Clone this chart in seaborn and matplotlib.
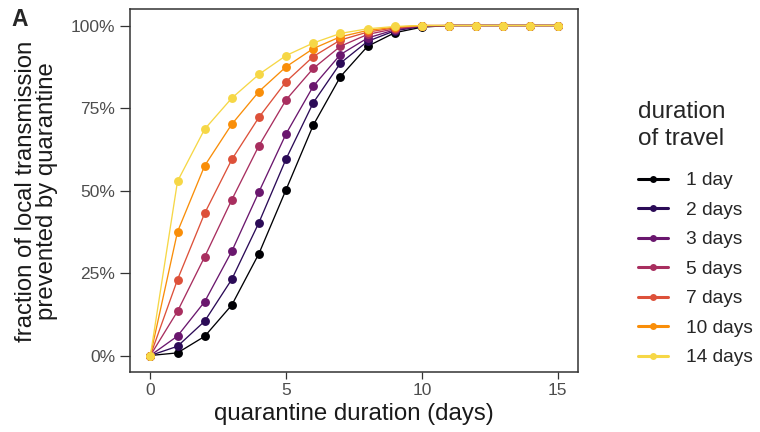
import numpy as np
import pandas as pd
import matplotlib
matplotlib.use("Agg")
import matplotlib.pyplot as plt
import matplotlib as mpl
import seaborn as sns
from matplotlib.ticker import PercentFormatter

# Quarantine duration in days (x axis)
quarantine_days = list(range(0, 16))

# Travel duration groups (legend)
travel_labels = ["1 day", "2 days", "3 days", "5 days", "7 days", "10 days", "14 days"]

# Percent of local transmission prevented, one list per travel duration
prevented_1d = [0, 0.8, 5.8, 15.3, 30.9, 50.3, 69.8, 84.5, 93.7, 97.8, 99.5, 100, 100, 100, 100, 100]
prevented_2d = [0, 2.8, 10.4, 23.1, 40.3, 59.6, 76.6, 88.6, 95.2, 98.4, 99.7, 100, 100, 100, 100, 100]
prevented_3d = [0, 5.9, 16.3, 31.6, 49.6, 67.2, 81.6, 91.2, 96.2, 98.7, 99.8, 100, 100, 100, 100, 100]
prevented_5d = [0, 13.4, 29.9, 47.2, 63.6, 77.5, 87.0, 93.7, 97.3, 99.0, 99.9, 100, 100, 100, 100, 100]
prevented_7d = [0, 23.0, 43.1, 59.4, 72.2, 83.0, 90.6, 95.6, 98.0, 99.3, 100, 100, 100, 100, 100, 100]
prevented_10d = [0, 37.5, 57.5, 70.1, 80.0, 87.5, 93.0, 96.6, 98.5, 99.5, 100, 100, 100, 100, 100, 100]
prevented_14d = [0, 52.8, 68.6, 78.0, 85.2, 90.9, 94.7, 97.6, 99.0, 99.7, 100, 100, 100, 100, 100, 100]

series = [prevented_1d, prevented_2d, prevented_3d, prevented_5d,
          prevented_7d, prevented_10d, prevented_14d]

frames = []
for label, values in zip(travel_labels, series):
    frames.append(pd.DataFrame({
        "quarantine": quarantine_days,
        "prevented": np.array(values) / 100.0,
        "travel": label,
    }))
df = pd.concat(frames, ignore_index=True)

sns.set_theme(style="white")
plt.rcParams["font.family"] = ["Liberation Sans", "DejaVu Sans"]

cmap = mpl.colormaps["inferno"]
palette = {lab: cmap(v) for lab, v in zip(travel_labels, np.linspace(0, 0.9, len(travel_labels)))}

fig = plt.figure(figsize=(7.6, 4.32), dpi=100)
ax = fig.add_axes([130 / 760, 1 - 372 / 432, 448 / 760, 363 / 432])

sns.lineplot(
    data=df, x="quarantine", y="prevented", hue="travel",
    hue_order=travel_labels, palette=palette,
    marker="o", markersize=6.4, markeredgewidth=0, linewidth=0.95,
    ax=ax,
)

ax.set_xlim(-0.75, 15.75)
ax.set_ylim(-0.05, 1.05)
ax.set_xticks([0, 5, 10, 15])
ax.set_yticks([0, 0.25, 0.5, 0.75, 1.0])
ax.yaxis.set_major_formatter(PercentFormatter(xmax=1, decimals=0))

for side in ["left", "right", "top", "bottom"]:
    ax.spines[side].set_visible(True)
    ax.spines[side].set_color("#333333")
    ax.spines[side].set_linewidth(1.1)

ax.tick_params(axis="both", which="major", width=0.9, color="#333333",
               labelcolor="#4D4D4D", labelsize=12.5, left=True, bottom=True)
ax.tick_params(axis="x", length=4.8, pad=3)
ax.tick_params(axis="y", length=7.5, pad=3)

ax.set_xlabel("quarantine duration (days)", fontsize=17.3, color="#1a1a1a", labelpad=4)
ax.set_ylabel("fraction of local transmission\nprevented by quarantine", fontsize=17.2,
              color="#1a1a1a", linespacing=0.95)
ax.yaxis.set_label_coords(-0.160, 0.497)

handles, labels = ax.get_legend_handles_labels()
for h in handles:
    h.set_linewidth(2.2)
    h.set_markersize(5)
leg = ax.legend(handles, labels, title="duration\nof travel", frameon=False,
                loc="upper left", bbox_to_anchor=(1.116, 0.769),
                fontsize=13.8, title_fontsize=17.5, handlelength=1.6,
                handletextpad=0.9, labelspacing=0.63, borderaxespad=0)
leg._legend_box.align = "left"
leg._legend_box.sep = 16
leg.get_title().set_linespacing(1.3)

fig.text(0.015, 0.981, "A", fontsize=16.5, fontweight="bold", va="top", ha="left")

fig.savefig("out.png", dpi=100)
